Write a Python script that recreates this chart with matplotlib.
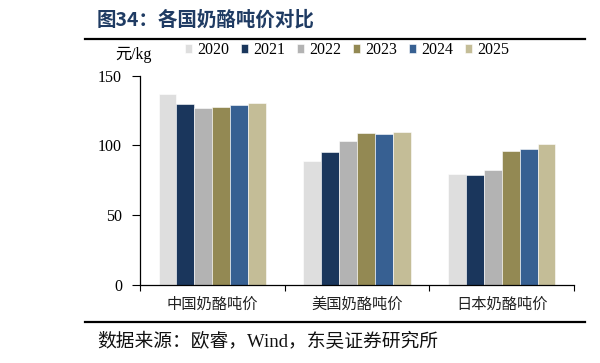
import matplotlib
matplotlib.use("Agg")
import matplotlib.pyplot as plt
from matplotlib.lines import Line2D
import numpy as np

plt.rcParams['font.family'] = ['Liberation Serif', 'Noto Sans CJK SC', 'DejaVu Sans']

categories = ["中国奶酪吨价", "美国奶酪吨价", "日本奶酪吨价"]
years = ["2020", "2021", "2022", "2023", "2024", "2025"]
v2020 = [136.6, 88.6, 79.3]
v2021 = [129.8, 95.0, 78.8]
v2022 = [127.1, 103.1, 82.6]
v2023 = [127.9, 108.6, 96.2]
v2024 = [129.3, 107.9, 97.6]
v2025 = [130.7, 110.0, 101.4]
series = [v2020, v2021, v2022, v2023, v2024, v2025]
colors = ["#DEDEDE", "#1A365C", "#B3B3B3", "#938953", "#376092", "#C4BD97"]
yticks = [0, 50, 100, 150]

fig = plt.figure(figsize=(6, 3.63), dpi=100)
ax = fig.add_axes([140/600, 1-285/363, (574-140)/600, (285-75.7)/363])

x = np.arange(len(categories))
w = 0.124
handles = []
for j, (vals, c, yr) in enumerate(zip(series, colors, years)):
    b = ax.bar(x + (j - 2.5) * w, vals, width=w, color=c, edgecolor='white',
               linewidth=0.4, label=yr)
    handles.append(b)

ax.set_xlim(-0.5, 2.5)
ax.set_ylim(0, 150)
ax.set_yticks(yticks)
ax.set_yticklabels([str(t) for t in yticks], fontsize=11.5, family='Liberation Serif')
ax.tick_params(axis='y', direction='out', length=6, width=0.8, pad=7)
ax.set_xticks(x)
ax.set_xticklabels(categories, fontsize=11, family=['Noto Sans CJK SC'], color='#222222')
ax.tick_params(axis='x', length=0, pad=8)
ax.set_xticks([-0.5, 0.5, 1.5, 2.5], minor=True)
ax.tick_params(axis='x', which='minor', direction='out', length=4, width=0.8)
for s in ['top', 'right']:
    ax.spines[s].set_visible(False)
for s in ['left', 'bottom']:
    ax.spines[s].set_linewidth(0.9)
    ax.spines[s].set_color('black')

fig.legend(handles=handles, labels=years, loc='center', bbox_to_anchor=(347/600, 1-50/363),
           ncol=6, frameon=False, fontsize=11.5, handlelength=0.45, handleheight=0.5,
           handletextpad=0.3, columnspacing=0.75, borderaxespad=0, borderpad=0)

fig.text(115/600, 1-55/363, "元/kg", fontsize=11.5, va='center', ha='left')

fig.text(97/600, 1-20/363, "图34：各国奶酪吨价对比", fontsize=14, fontweight='bold',
         color='#1F3B63', va='center', ha='left', family=['Noto Sans CJK SC'])
fig.add_artist(Line2D([85/600, 585/600], [1-39/363, 1-39/363], color='black', lw=1.6,
                      transform=fig.transFigure))
fig.add_artist(Line2D([85/600, 585/600], [1-322/363, 1-322/363], color='black', lw=1.6,
                      transform=fig.transFigure))
fig.text(97/600, 1-342/363, "数据来源：欧睿，Wind，东吴证券研究所", fontsize=13.5,
         va='center', ha='left', color='#111111')

fig.savefig("out.png", dpi=100)
